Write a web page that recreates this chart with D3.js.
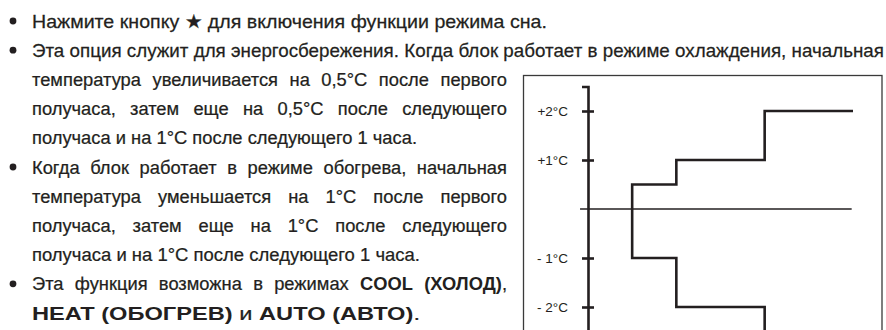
<!DOCTYPE html>
<html><head><meta charset="utf-8">
<script src="https://cdn.jsdelivr.net/npm/d3@7"></script>
<style>
html,body{margin:0;padding:0;background:#fff;}
svg{display:block;}
</style></head>
<body>
<svg id="c" width="886" height="330"></svg>
<script>
// ---- data ----
const tickValues = [2, 1, -1, -2];
const tickLabels = ["+2°C", "+1°C", "- 1°C", "- 2°C"];
const coolHours  = [0.5, 0.5, 1, 2, 3];
const coolDelta  = [0, 0.5, 1, 2, 2];
const heatHours  = [0.5, 0.5, 1, 2, 3];
const heatDelta  = [0, -1, -2, -3, -3];
const baselineHours = [-0.09, 2.985];
const axisDeltaRange = [2.5, -3];

// text lines: segments [text, bold, glued], bullet flag, justify flag
const lines = [
  {b:true,  j:false, seg:[["Нажмите кнопку ★ для включения функции режима сна.",0]], end:547},
  {b:true,  j:false, seg:[["Эта опция служит для энергосбережения. Когда блок работает в режиме охлаждения, начальная",0]], end:884},
  {b:false, j:true,  seg:[["температура увеличивается на 0,5°C после первого",0]], end:507},
  {b:false, j:true,  seg:[["получаса, затем еще на 0,5°C после следующего",0]], end:507},
  {b:false, j:false, seg:[["получаса и на 1°C после следующего 1 часа.",0]], end:417},
  {b:true,  j:true,  seg:[["Когда блок работает в режиме обогрева, начальная",0]], end:507},
  {b:false, j:true,  seg:[["температура уменьшается на 1°C после первого",0]], end:507},
  {b:false, j:true,  seg:[["получаса, затем еще на 1°C после следующего",0]], end:507},
  {b:false, j:false, seg:[["получаса и на 1°C после следующего 1 часа.",0]], end:420},
  {b:true,  j:true,  seg:[["Эта функция возможна в режимах",0],["COOL (ХОЛОД)",1],[",",0,true]], end:507},
  {b:false, j:false, seg:[["HEAT (ОБОГРЕВ)",1],["и",0],["AUTO (АВТО)",1],[".",0,true]], end:420}
];

const svg = d3.select("#c");
const FONT = "'Liberation Sans Narrow','Arial Narrow','Liberation Sans',Arial,sans-serif";
const FS = 19;
const textX = 32, firstBase = 27.5, lineGap = 29.2;
const ink = "#231f20";

const meas = svg.append("text").attr("font-family", FONT).attr("font-size", FS).attr("visibility","hidden");
function width(str, bold){
  meas.attr("font-weight", bold ? "bold" : "normal").text(str);
  return meas.node().getComputedTextLength();
}
const spaceW = width("a a",0) - width("aa",0);
const refLine = lines[4];
const condense = (refLine.end - textX) / width(refLine.seg[0][0], 0);

const tg = svg.append("g");
lines.forEach((ln, i) => {
  const base = firstBase + i*lineGap;
  if (ln.b) {
    tg.append("circle").attr("cx", 13).attr("cy", base - 6.5).attr("r", 3.4).attr("fill", ink);
  }
  const toks = [];
  ln.seg.forEach(s => {
    if (s[2]) { toks.push({t:s[0], bold:s[1], glue:true}); return; }
    s[0].split(" ").forEach(w => toks.push({t:w, bold:s[1], glue:false}));
  });
  const words = [];
  toks.forEach(tk => {
    if (tk.glue && words.length) words[words.length-1].push(tk);
    else words.push([tk]);
  });
  words.forEach(w => w.width = d3.sum(w, p => width(p.t, p.bold)));
  const sumW = d3.sum(words, w => w.width);
  const target = (ln.end - textX) / condense;
  const nGaps = words.length - 1;
  let gap = spaceW, sx = condense;
  if (ln.j) {
    gap = (target - sumW) / nGaps;
    if (gap < spaceW * 0.8) { gap = spaceW * 0.8; sx = (ln.end - textX) / (sumW + gap*nGaps); }
  } else {
    sx = (ln.end - textX) / (sumW + gap*nGaps);
  }
  const g = tg.append("g").attr("transform", `translate(${textX},${base}) scale(${sx},1)`);
  let xx0 = 0;
  words.forEach(w => {
    let xx = xx0;
    w.forEach(p => {
      g.append("text").attr("x", xx).attr("y", 0)
        .attr("font-family", FONT).attr("font-size", FS)
        .attr("font-weight", p.bold ? "bold" : "normal")
        .attr("fill", ink).attr("stroke", ink).attr("stroke-width", p.bold ? 0 : 0.25)
        .text(p.t);
      xx += width(p.t, p.bold);
    });
    xx0 += w.width + gap;
  });
});
meas.remove();

// ---- chart ----
const x = d3.scaleLinear().domain([0, 3]).range([588, 853]);
const y = d3.scaleLinear().domain([0, 2]).range([209, 111]);

svg.append("rect").attr("x", 523.5).attr("y", 75.5).attr("width", 358.5).attr("height", 300)
  .attr("fill", "none").attr("stroke", "#3a3a3a").attr("stroke-width", 1.3);

svg.append("line")
  .attr("x1", x(baselineHours[0])).attr("x2", x(baselineHours[1]))
  .attr("y1", y(0)).attr("y2", y(0))
  .attr("stroke", ink).attr("stroke-width", 1.6);

const yAxisScale = y.copy().domain(axisDeltaRange).range(axisDeltaRange.map(v => y(v)));
const ax = svg.append("g").attr("transform", `translate(${x(0)},0)`)
  .call(d3.axisLeft(yAxisScale).tickValues(tickValues)
    .tickFormat((d,i) => tickLabels[i]).tickSizeOuter(0).tickSize(6).tickPadding(14));
ax.select(".domain").attr("stroke", ink).attr("stroke-width", 2.6);
ax.selectAll(".tick line").attr("x1", -6).attr("x2", 6).attr("stroke", ink).attr("stroke-width", 2.6);
ax.selectAll(".tick text").attr("font-family", "'Liberation Sans',Arial,sans-serif")
  .attr("font-size", 13.5).attr("fill", ink);

const step = d3.line().x(d => x(d[0])).y(d => y(d[1])).curve(d3.curveStepAfter);
svg.append("path").attr("d", step(d3.zip(coolHours, coolDelta)))
  .attr("fill", "none").attr("stroke", ink).attr("stroke-width", 2.6).attr("stroke-linejoin","miter");
svg.append("path").attr("d", step(d3.zip(heatHours, heatDelta)))
  .attr("fill", "none").attr("stroke", ink).attr("stroke-width", 2.6).attr("stroke-linejoin","miter");
</script>
</body></html>
